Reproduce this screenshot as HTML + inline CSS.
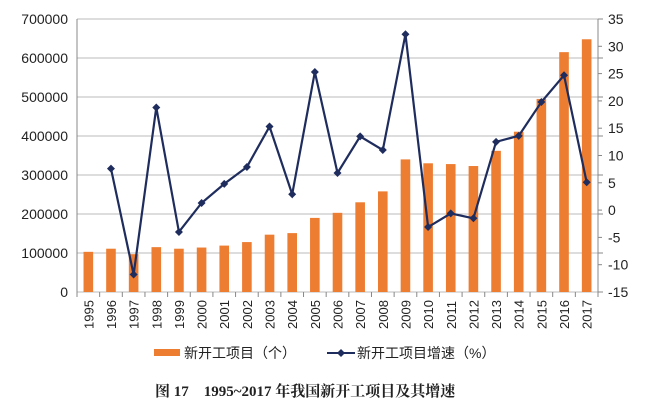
<!DOCTYPE html><html><head><meta charset="utf-8"><style>
html,body{margin:0;padding:0;background:#fff;width:650px;height:415px;overflow:hidden}
text{font-family:"Liberation Sans","Noto Sans CJK SC",sans-serif;fill:#222}
text.cap{font-family:"Liberation Serif","Noto Serif CJK SC",serif;font-weight:bold}
</style></head><body>
<svg id="s" width="650" height="415" xmlns="http://www.w3.org/2000/svg"></svg>
<script>
const s=document.getElementById('s');let h='';
const X0=77,X1=598,Y0=292,Y1=19,H=Y0-Y1;
const bars=[103000,111000,97000,115000,111000,114000,119000,128000,147000,151000,190000,203000,230000,258000,340000,330000,328000,323000,362000,411000,495000,615000,648000];
const g=[null,7.6,-11.8,18.8,-4.0,1.3,4.8,7.9,15.3,2.9,25.3,6.8,13.5,11.0,32.2,-3.1,-0.6,-1.5,12.5,13.6,19.8,24.7,5.1];
const n=23,cw=(X1-X0)/n;
for(let i=0;i<=7;i++){const y=Y0-i*H/7;
 h+=`<line x1="${X0}" x2="${X1}" y1="${y}" y2="${y}" stroke="#bbb" stroke-width="1"/>`;
 h+=`<text x="${X0-9}" y="${y+5}" font-size="14" text-anchor="end">${i*100000}</text>`;
 h+=`<line x1="${X1}" x2="${X1+5}" y1="${y}" y2="${y}" stroke="#888"/>`;}
for(let i=0;i<=10;i++){const y=Y0-i*H/10;
 h+=`<text x="${X1+10}" y="${y+5}" font-size="14">${-15+i*5}</text>`;
 h+=`<line x1="${X1}" x2="${X1+4}" y1="${y}" y2="${y}" stroke="#888"/>`;}
h+=`<line x1="${X0}" x2="${X0}" y1="${Y1}" y2="${Y0}" stroke="#888"/><line x1="${X1}" x2="${X1}" y1="${Y1}" y2="${Y0}" stroke="#888"/>`;
for(let i=0;i<=n;i++){const x=X0+i*cw;h+=`<line x1="${x}" x2="${x}" y1="${Y0}" y2="${Y0+5}" stroke="#888"/>`;}
bars.forEach((v,i)=>{const cx=X0+(i+.5)*cw,bh=v/700000*H;
 h+=`<rect x="${cx-4.8}" y="${Y0-bh}" width="9.6" height="${bh}" fill="#ed7d31"/>`;
 h+=`<text transform="translate(${cx+5},${Y0+37}) rotate(-90)" font-size="13">${1995+i}</text>`;});
let pts=[];g.forEach((v,i)=>{if(v===null)return;pts.push([X0+(i+.5)*cw,Y0-(v+15)/50*H]);});
h+=`<polyline points="${pts.map(p=>p.join(',')).join(' ')}" fill="none" stroke="#1f2d5e" stroke-width="2.2"/>`;
pts.forEach(p=>h+=`<path d="M${p[0]-4},${p[1]}L${p[0]},${p[1]-4}L${p[0]+4},${p[1]}L${p[0]},${p[1]+4}Z" fill="#1f2d5e"/>`);
h+=`<rect x="154" y="349" width="26" height="7" fill="#ed7d31"/>`;
h+=`<text x="184" y="358" font-size="14">新开工项目（个）</text>`;
h+=`<line x1="327" x2="355" y1="353" y2="353" stroke="#1f2d5e" stroke-width="2"/><path d="M337,353L341,349L345,353L341,357Z" fill="#1f2d5e"/>`;
h+=`<text x="357" y="358" font-size="14">新开工项目增速（%）</text>`;
h+=`<text class="cap" x="155" y="396" font-size="15">图 17　1995~2017 年我国新开工项目及其增速</text>`;
s.innerHTML=h;
</script></body></html>
